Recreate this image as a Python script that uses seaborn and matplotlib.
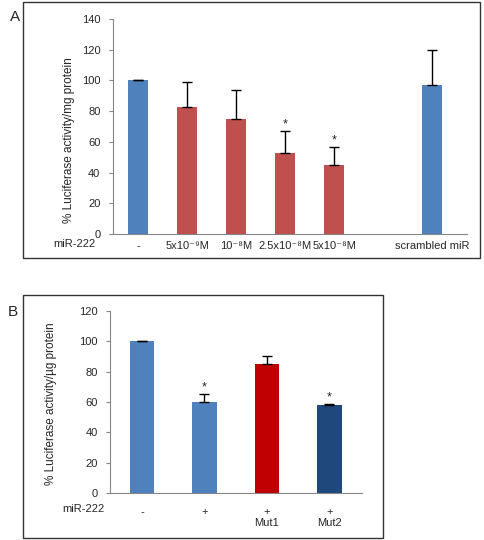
"""
Luciferase activity after miR-222 treatment (panels A and B).
"""

import numpy as np
import matplotlib
matplotlib.use("Agg")
import matplotlib.pyplot as plt
from matplotlib.patches import Rectangle
import pandas as pd
import seaborn as sns

# Panel A data
labels_a = ['-', '5x10⁻⁹M', '10⁻⁸M', '2.5x10⁻⁸M', '5x10⁻⁸M', ' ', 'scrambled miR']
values_a = [100, 82.5, 75, 53, 45, np.nan, 97]
errors_a = [0.4, 16.5, 18.5, 14, 11.5, np.nan, 22.5]
stars_a = ['', '', '', '*', '*', '', '']
colors_a = ['#4F81BD', '#C0504D', '#C0504D', '#C0504D', '#C0504D', '#C0504D', '#4F81BD']

# Panel B data
labels_b = ['-', '+', '+\nMut1', '+\nMut2']
values_b = [100, 60, 85, 58]
errors_b = [0.3, 5, 5.5, 0.6]
stars_b = ['', '*', '', '*']
colors_b = ['#4F81BD', '#4F81BD', '#C00000', '#1F497D']

sns.set_style('white')
plt.rcParams['font.family'] = ['Liberation Sans', 'DejaVu Sans']

AXIS_GREY = '#868686'
FS = 8


def draw_panel(ax, labels, values, errors, stars, colors, ylim, ylabel, width, xlim,
               label_xy, xpad):
    df = pd.DataFrame({'label': labels, 'value': values})
    sns.barplot(data=df, x='label', y='value', hue='label', order=labels,
                palette=dict(zip(labels, colors)), legend=False, width=width,
                saturation=1, ax=ax, edgecolor='none')
    pos = np.arange(len(labels))
    vals = np.array(values, dtype=float)
    errs = np.array(errors, dtype=float)
    ax.errorbar(pos, vals, yerr=[np.zeros_like(errs), errs], fmt='none',
                ecolor='black', elinewidth=1, capsize=3.6, capthick=1)
    for p, v, e, s in zip(pos, vals, errs, stars):
        if s:
            ax.text(p, v + e + 0.5, s, ha='center', va='bottom', fontsize=FS + 1)
    ax.set_xlim(*xlim)
    ax.set_ylim(*ylim)
    ax.set_yticks(np.arange(ylim[0], ylim[1] + 1, 20))
    ax.set_xlabel('')
    ax.set_ylabel(ylabel, fontsize=FS + 0.5)
    ax.yaxis.set_label_coords(*label_xy)
    ax.tick_params(axis='y', labelsize=FS, length=3, color=AXIS_GREY, left=True, pad=6)
    ax.tick_params(axis='x', labelsize=FS, length=0, pad=xpad)
    for side in ['top', 'right']:
        ax.spines[side].set_visible(False)
    for side in ['left', 'bottom']:
        ax.spines[side].set_color(AXIS_GREY)
        ax.spines[side].set_linewidth(0.8)


fig = plt.figure(figsize=(4.84, 5.4), dpi=100)

ax_a = fig.add_axes([113 / 484, 1 - 234 / 540, 354 / 484, 215 / 540])
draw_panel(ax_a, labels_a, values_a, errors_a, stars_a, colors_a, (0, 140),
           '% Luciferase activity/mg protein', 0.41, (-0.51, 6.71),
           (-0.107, 0.437), 5)
fig.text(53 / 484, 1 - 244 / 540, 'miR-222', fontsize=FS, va='center')

ax_b = fig.add_axes([110 / 484, 1 - 493 / 540, 252 / 484, 182 / 540])
draw_panel(ax_b, labels_b, values_b, errors_b, stars_b, colors_b, (0, 120),
           '% Luciferase activity/µg protein', 0.39, (-0.51, 3.52),
           (-0.21, 0.49), 10)
fig.text(62 / 484, 1 - 509 / 540, 'miR-222', fontsize=FS, va='center')

# panel frames and letters
for x0, y0, x1, y1 in [(23, 2, 480, 258), (23, 295, 383, 538)]:
    fig.add_artist(Rectangle((x0 / 484, 1 - y1 / 540), (x1 - x0) / 484, (y1 - y0) / 540,
                             transform=fig.transFigure, fill=False,
                             edgecolor='#333333', linewidth=1))
fig.text(10 / 484, 1 - 17 / 540, 'A', fontsize=11, va='center')
fig.text(8 / 484, 1 - 312 / 540, 'B', fontsize=11, va='center')

fig.savefig('out.png', dpi=100)
